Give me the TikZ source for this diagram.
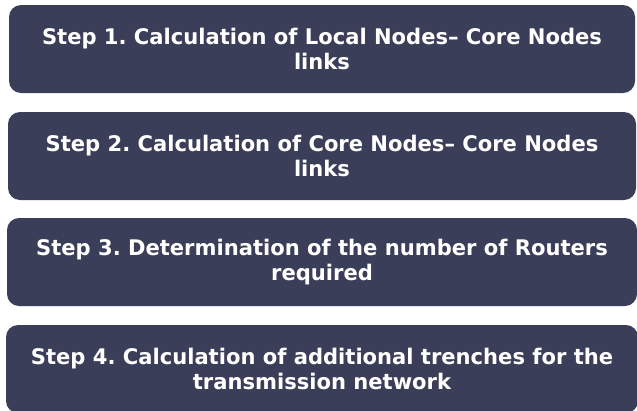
\documentclass[tikz,border=0pt]{standalone}
\usepackage{fontspec}
\setmainfont{DejaVu Sans}[FakeStretch=0.98]
\frenchspacing
\definecolor{stepnavy}{RGB}{59,62,88}
\tikzset{
  stepbox/.style={fill=stepnavy, rounded corners=12pt, inner sep=0pt,
    text=white, align=center, font=\fontsize{21.5}{25}\selectfont\bfseries},
}
\begin{document}
\begin{tikzpicture}[x=1pt,y=-1pt]
    \useasboundingbox (0,0) rectangle (637,410);
    \clip (0,0) rectangle (637,410);
    % the four steps, top to bottom
    \node[stepbox, minimum width=626pt, minimum height=88pt] (step1) at (322,49)
      {Step 1. Calculation of Local Nodes-- Core Nodes\\links};
    \node[stepbox, minimum width=628pt, minimum height=88pt] (step2) at (322,156)
      {Step 2. Calculation of Core Nodes-- Core Nodes\\links};
    \node[stepbox, minimum width=630pt, minimum height=88pt] (step3) at (322,262)
      {Step 3. Determination of the number of Routers\\required};
    \node[stepbox, minimum width=632pt, minimum height=88pt] (step4) at (322,369)
      {Step 4. Calculation of additional trenches for the\\transmission network};
  \end{tikzpicture}
\end{document}
